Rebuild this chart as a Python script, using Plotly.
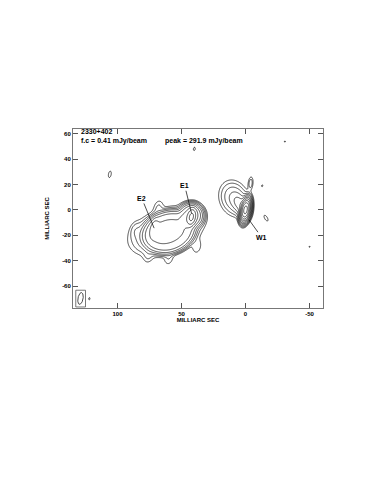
import numpy as np
import plotly.graph_objects as go

first_contour = 0.41      # mJy/beam (f.c)
peak_flux = 291.9         # mJy/beam
n_levels = 10             # contours at f.c * 2^k, k = 0..9

# source model components (positions in mas, amplitudes in mJy/beam)
comp_name  = ["E plateau", "E ridge", "E edge a", "E edge b", "E edge c", "E edge d", "E edge e",
              "E1 halo", "E2", "E1", "W1 core", "W1 ext", "W1 inner ext", "W1 finger",
              "spot1", "spot2", "spot3", "spot4", "spot5", "spot6", "spot7"]
comp_x     = [60.0, 62.0, 76.0, 60.0, 68.0, 86.0, 38.0,
              42.5, 71.4, 42.2, 0.0, 9.0, 4.0, -4.0,
              106.0, 40.0, -13.0, -16.0, -30.7, -50.0, 122.0]
comp_y     = [-17.5, -17.0, -36.0, -38.0, 2.0, -16.0, -29.0,
              -4.5, -14.4, -5.5, 0.0, 9.0, 4.0, 21.0,
              28.0, 48.0, 19.0, -6.5, 53.8, -29.0, -70.0]
comp_amp   = [22.0, 12.0, 0.7, 0.7, 0.8, 0.8, 0.7,
              32.0, 25.0, 100.0, 280.0, 3.5, 8.0, 1.3,
              0.5, 0.45, 0.43, 0.5, 0.42, 0.42, 0.43]
comp_sa    = [13.4, 12.0, 4.0, 4.0, 4.0, 4.0, 4.0,
              5.3, 4.0, 3.5, 4.0, 7.2, 5.0, 3.2,
              4.0, 3.0, 2.5, 4.0, 2.5, 2.5, 3.0]
comp_sb    = [10.4, 7.0, 2.5, 2.5, 2.5, 2.5, 2.5,
              5.3, 1.7, 1.8, 1.7, 5.6, 3.0, 1.2,
              1.7, 1.7, 1.5, 1.7, 1.5, 1.5, 1.5]
comp_theta = [-20.0, -20.0, 100.0, 100.0, 100.0, 100.0, 100.0,
              90.0, 100.0, 100.0, 100.0, 70.0, 60.0, 95.0,
              100.0, 100.0, 100.0, 60.0, 0.0, 100.0, 100.0]
comp_power = [3.0, 1.0, 1.0, 1.0, 1.0, 1.0, 1.0,
              1.5, 1.0, 1.0, 1.0, 1.0, 1.0, 1.0,
              1.0, 1.0, 1.0, 1.0, 1.0, 1.0, 1.0]

# restoring beam (half-power ellipse)
beam_x, beam_y = 128.9, -69.8
beam_major, beam_minor, beam_theta = 4.7, 2.0, 100.0

# component labels: (text, text x, text y, feature x, feature y)
label_text = ["E2", "E1", "W1"]
label_tx   = [81.0, 47.5, -12.5]
label_ty   = [9.0, 19.0, -21.5]
label_fx   = [71.4, 42.2, -2.8]
label_fy   = [-14.4, -2.6, -7.9]

x_ticks = [100, 50, 0, -50]
y_ticks = [60, 40, 20, 0, -20, -40, -60]
x_range = [134.76, -60.5]
y_range = [-77.3, 63.7]

# ---- build the brightness field from the components ----
xs = np.arange(-62.0, 137.0, 0.35)
ys = np.arange(-79.0, 66.0, 0.35)
X, Y = np.meshgrid(xs, ys)
F = np.zeros_like(X)
for x0, y0, a, sa, sb, th, p in zip(comp_x, comp_y, comp_amp, comp_sa, comp_sb, comp_theta, comp_power):
    t = np.deg2rad(th)
    u = (X - x0) * np.cos(t) + (Y - y0) * np.sin(t)
    v = -(X - x0) * np.sin(t) + (Y - y0) * np.cos(t)
    q = 0.5 * ((u / sa) ** 2 + (v / sb) ** 2)
    F += a * np.exp(-q ** p)
Z = np.log2(np.maximum(F, 1e-6) / first_contour)
Z = np.maximum(Z, -3)

fig = go.Figure()
fig.add_trace(go.Contour(
    x=xs, y=ys, z=Z,
    contours=dict(start=0, end=n_levels - 1, size=1, coloring="lines"),
    colorscale=[[0, "black"], [1, "black"]],
    showscale=False, line=dict(width=0.7), hoverinfo="skip",
))

# beam ellipse
tt = np.linspace(0, 2 * np.pi, 80)
bt = np.deg2rad(beam_theta)
bu = beam_major * np.cos(tt)
bv = beam_minor * np.sin(tt)
fig.add_trace(go.Scatter(
    x=beam_x + bu * np.cos(bt) - bv * np.sin(bt),
    y=beam_y + bu * np.sin(bt) + bv * np.cos(bt),
    mode="lines", line=dict(color="black", width=0.7), hoverinfo="skip", showlegend=False))
fig.add_shape(type="rect", x0=132.6, x1=125.0, y0=-63.3, y1=-76.5,
              line=dict(color="#555", width=0.8))

font_lab = dict(family="Arial", size=7, color="#000000", weight="bold")
for t_, tx, ty, fx, fy in zip(label_text, label_tx, label_ty, label_fx, label_fy):
    fig.add_annotation(x=fx, y=fy, ax=tx, ay=ty, axref="x", ayref="y", xref="x", yref="y",
                       text=t_, showarrow=True, arrowhead=0, arrowwidth=0.7, arrowcolor="#000000",
                       font=font_lab)

fig.add_annotation(x=129.8, y=61.6, text="2330+402", showarrow=False, xanchor="left", font=font_lab)
fig.add_annotation(x=129.8, y=54.6, text="f.c = 0.41 mJy/beam", showarrow=False, xanchor="left", font=font_lab)
fig.add_annotation(x=64.4, y=54.6, text="peak = 291.9 mJy/beam", showarrow=False, xanchor="left", font=font_lab)

tick_font = dict(family="Arial", size=6, color="#000000", weight="bold")
axis_common = dict(showgrid=False, zeroline=False, ticks="inside", ticklen=5, tickwidth=0.8,
                   tickcolor="#555", showline=True, linecolor="#777", linewidth=1, mirror="ticks",
                   tickfont=tick_font, automargin=False)
fig.update_xaxes(range=x_range, tickvals=x_ticks, ticktext=[str(v) for v in x_ticks],
                 title=dict(text="MILLIARC SEC", standoff=0, font=tick_font),
                 **axis_common)
fig.update_yaxes(range=y_range, tickvals=y_ticks, ticktext=[str(v) for v in y_ticks],
                 title=dict(text="MILLIARC SEC", standoff=12, font=tick_font),
                 **axis_common)
# the page body adds an 8 px offset, so margins are shifted by 8 px
fig.update_layout(template="none", width=383, height=495,
                  margin=dict(l=65, r=68, t=121, b=195, pad=0),
                  plot_bgcolor="white", paper_bgcolor="white", showlegend=False)
fig.write_html("out.html")
